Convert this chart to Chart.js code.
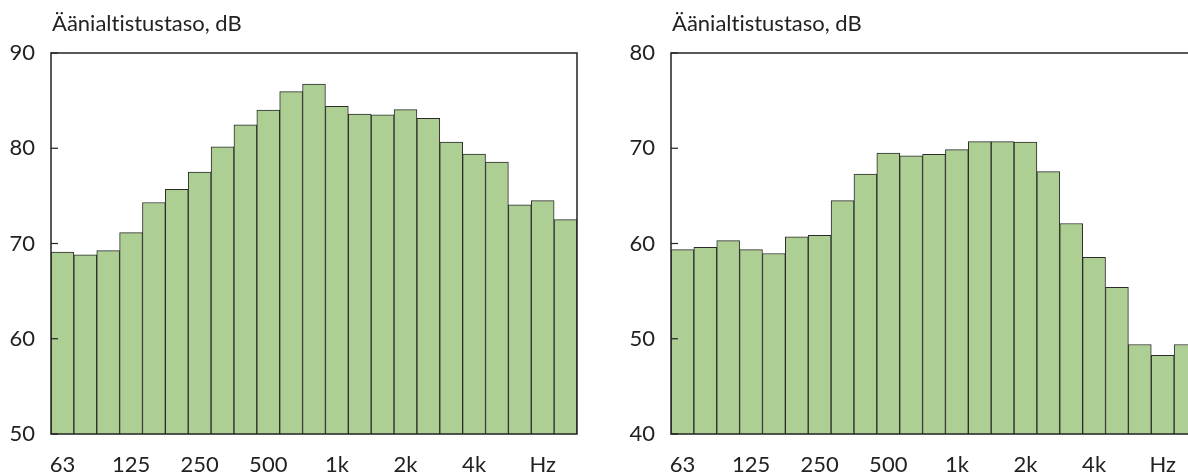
<!DOCTYPE html>
<html>
<head>
<meta charset="utf-8">
<script src="https://cdn.jsdelivr.net/npm/chart.js@4.4.1/dist/chart.umd.min.js"></script>
<style>
  html, body { margin: 0; padding: 0; background: #fff; overflow: hidden; width: 1188px; height: 474px; }
  .wrap { position: absolute; top: 0; width: 600px; height: 474px; }
  .title { position: absolute; top: 10px; font-family: Lato, "DejaVu Sans", sans-serif; font-size: 22px; line-height: 26px; color: #222; white-space: nowrap; font-variant-ligatures: none; font-feature-settings: "liga" 0, "clig" 0; }
</style>
</head>
<body>
<div class="wrap" style="left:0px"><canvas id="c1" width="600" height="474"></canvas></div>
<div class="wrap" style="left:620px"><canvas id="c2" width="600" height="474"></canvas></div>
<div class="title" style="left:52px">Äänialtistustaso, dB</div>
<div class="title" style="left:672px">Äänialtistustaso, dB</div>
<script>
// Third-octave band centre frequencies (Hz)
const categories = ['63','80','100','125','160','200','250','315','400','500','630','800','1k','1.25k','1.6k','2k','2.5k','3.15k','4k','5k','6.3k','8k','10k'];
// Visible tick labels on the frequency axis
const tickLabels = ['63','','','125','','','250','','','500','','','1k','','','2k','','','4k','','','Hz',''];
// Left chart: sound exposure level, dB
const levelsLeft = [69.1, 68.8, 69.25, 71.15, 74.3, 75.7, 77.5, 80.15, 82.45, 84.0, 85.95, 86.75, 84.4, 83.6, 83.5, 84.05, 83.15, 80.65, 79.4, 78.55, 74.05, 74.5, 72.5];
// Right chart: sound exposure level, dB
const levelsRight = [59.35, 59.6, 60.3, 59.35, 58.95, 60.7, 60.85, 64.5, 67.3, 69.5, 69.2, 69.35, 69.85, 70.7, 70.7, 70.65, 67.55, 62.1, 58.55, 55.4, 49.4, 48.25, 49.4];
const yRangeLeft = [50, 90];
const yRangeRight = [40, 80];

const FONT = 'Lato, "DejaVu Sans", sans-serif';
const INK = '#222222';

const framePlugin = {
  id: 'frame',
  afterDatasetsDraw(chart) {
    const a = chart.chartArea, ctx = chart.ctx, y = chart.scales.y;
    ctx.save();
    ctx.strokeStyle = INK;
    ctx.lineWidth = 1.5;
    ctx.strokeRect(a.left, a.top, a.right - a.left, a.bottom - a.top);
    ctx.lineWidth = 1.2;
    y.ticks.forEach(t => {
      const py = y.getPixelForValue(t.value);
      ctx.beginPath();
      ctx.moveTo(a.left, py);
      ctx.lineTo(a.left + 7, py);
      ctx.stroke();
    });
    ctx.restore();
  }
};

function makeChart(id, values, range) {
  return new Chart(document.getElementById(id), {
    type: 'bar',
    data: {
      labels: categories,
      datasets: [{
        data: values,
        backgroundColor: '#aecf94',
        borderColor: '#2b2b2b',
        borderWidth: 1,
        borderSkipped: false,
        barPercentage: 1,
        categoryPercentage: 1
      }]
    },
    options: {
      responsive: false,
      animation: false,
      layout: { padding: { top: 53, right: 23, left: 0, bottom: 0 } },
      plugins: { legend: { display: false }, title: { display: false }, tooltip: { enabled: false } },
      scales: {
        x: {
          grid: { display: false, drawTicks: false },
          border: { display: false },
          afterFit(s) { s.height = 40; },
          ticks: {
            autoSkip: false, maxRotation: 0, minRotation: 0, padding: 18,
            color: INK, font: { family: FONT, size: 22 },
            callback: (v, i) => tickLabels[i]
          }
        },
        y: {
          min: range[0], max: range[1],
          grid: { display: false, drawTicks: false },
          border: { display: false },
          afterFit(s) { s.width = 51; },
          ticks: { stepSize: 10, padding: 16, color: INK, font: { family: FONT, size: 22 } }
        }
      }
    },
    plugins: [framePlugin]
  });
}

makeChart('c1', levelsLeft, yRangeLeft);
makeChart('c2', levelsRight, yRangeRight);
</script>
</body>
</html>
